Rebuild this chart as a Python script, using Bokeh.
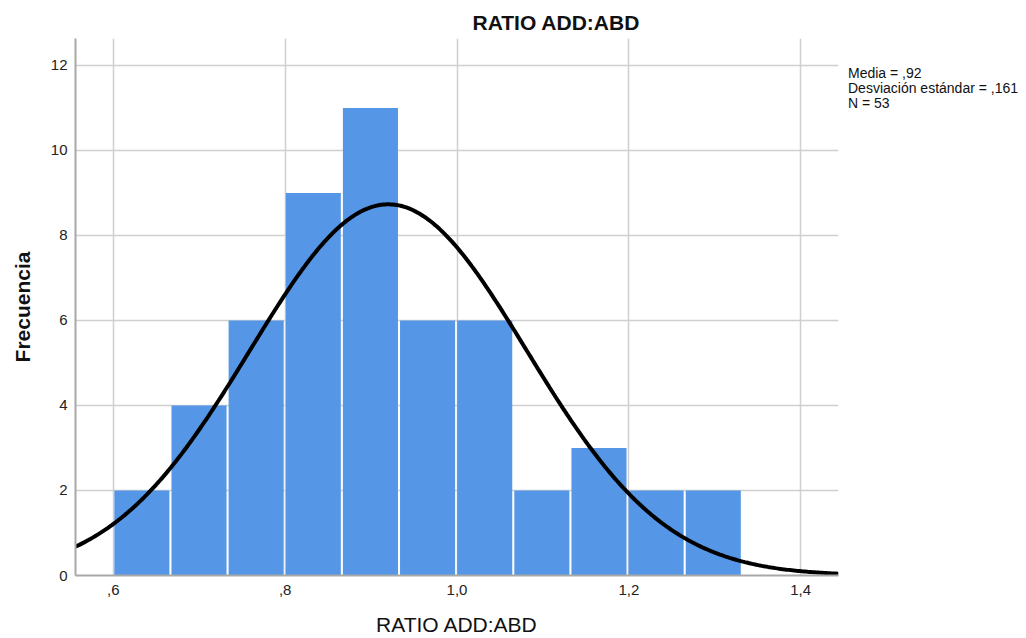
import numpy as np
from bokeh.plotting import figure
from bokeh.models import Range1d, FixedTicker, Div
from bokeh.layouts import row
from bokeh.embed import file_html
from bokeh.resources import INLINE

# ---- data ----
bin_start = 0.6
bin_width = 0.0665
counts = [2, 4, 6, 9, 11, 6, 6, 2, 3, 2, 2]
media = 0.92
desv = 0.161
n_total = 53
x_ticks = [0.6, 0.8, 1.0, 1.2, 1.4]
x_tick_labels = [",6", ",8", "1,0", "1,2", "1,4"]
y_ticks = [0, 2, 4, 6, 8, 10, 12]
stats_lines = ["Media = ,92", "Desviación estándar = ,161", "N = 53"]

FONT = "Liberation Sans"

p = figure(width=843, height=638, output_backend="svg", toolbar_location=None,
           x_range=Range1d(0.556, 1.444), y_range=Range1d(0, 12.635),
           min_border_left=75, min_border_right=5, min_border_top=38,
           min_border_bottom=63, x_axis_label="RATIO ADD:ABD", y_axis_label="Frecuencia")
p.outline_line_color = None
p.background_fill_color = "white"
p.border_fill_color = "white"

# grid
for g in (p.xgrid, p.ygrid):
    g.grid_line_color = "#cfcfcf"
    g.grid_line_width = 1.5
p.xgrid.ticker = FixedTicker(ticks=x_ticks)
p.ygrid.ticker = FixedTicker(ticks=y_ticks)

# axes
p.xaxis.ticker = FixedTicker(ticks=x_ticks)
p.xaxis.major_label_overrides = {t: l for t, l in zip(x_ticks, x_tick_labels)}
p.yaxis.ticker = FixedTicker(ticks=y_ticks)
for ax in (p.xaxis, p.yaxis):
    ax.major_tick_in = 0
    ax.major_tick_out = 0
    ax.minor_tick_in = 0
    ax.minor_tick_out = 0
    ax.axis_line_color = "#a8a8a8"
    ax.axis_line_width = 2
    ax.major_label_text_font = FONT
    ax.major_label_text_font_size = "15px"
    ax.major_label_text_color = "#222222"
    ax.axis_label_text_font = FONT
    ax.axis_label_text_color = "#111111"
p.xaxis.major_label_standoff = 9
p.yaxis.major_label_standoff = 8
p.xaxis.axis_label_text_font_size = "21px"
p.xaxis.axis_label_text_font_style = "normal"
p.xaxis.axis_label_standoff = 15
p.yaxis.axis_label_text_font_size = "21px"
p.yaxis.axis_label_text_font_style = "bold"
p.yaxis.axis_label_standoff = 14

# title
p.title.text = "RATIO ADD:ABD"
p.title.text_font = FONT
p.title.text_font_size = "21px"
p.title.text_font_style = "bold"
p.title.align = "left"
p.title.offset = 397
p.title.text_color = "#111111"

# histogram bars
lefts = np.array([bin_start + i * bin_width for i in range(len(counts))])
rights = lefts + bin_width
gap = 0.0012
p.quad(left=lefts + gap, right=rights - gap, bottom=0, top=counts,
       fill_color="#5596e6", line_color=None)

# fitted normal curve
xs = np.linspace(0.556, 1.444, 400)
ys = n_total * bin_width * np.exp(-0.5 * ((xs - media) / desv) ** 2) / (desv * np.sqrt(2 * np.pi))
p.line(xs, ys, line_color="black", line_width=4)

# stats text to the right of the chart
stats = Div(text="<br>".join(stats_lines), width=183, height=80,
            styles={"font-family": FONT, "font-size": "14px", "line-height": "15px",
                    "color": "#111111", "margin-top": "66px", "white-space": "nowrap"})

layout = row(p, stats, spacing=0)
open("out.html", "w").write(file_html(layout, INLINE))
